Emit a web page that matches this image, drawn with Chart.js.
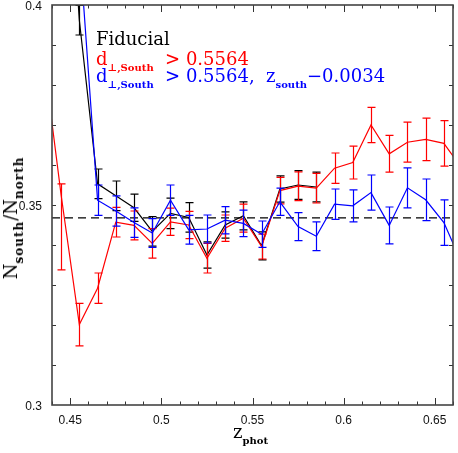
<!DOCTYPE html>
<html><head><meta charset="utf-8">
<script src="https://cdn.jsdelivr.net/npm/chart.js@4/dist/chart.umd.min.js"></script>
<style>
html,body{margin:0;padding:0;background:#fff;}
#wrap{position:relative;width:458px;height:453px;overflow:hidden;}
canvas{position:absolute;left:0;top:0;}
.t{position:absolute;font-family:"DejaVu Serif",serif;font-size:18px;line-height:18px;white-space:nowrap;}
.s{font-size:10px;font-weight:bold;position:relative;top:6px;}
.sy{font-size:12px;font-weight:bold;position:relative;top:6px;letter-spacing:1px;}
</style></head><body>
<div id="wrap">
<canvas id="c" width="458" height="453"></canvas>
<div class="t" style="left:96px;top:30px;color:#000">Fiducial</div>
<div class="t" style="left:96px;top:50px;color:#f00">d<span class="s">⊥,South</span>&nbsp; &gt; 0.5564</div>
<div class="t" style="left:96px;top:67px;color:#00f">d<span class="s">⊥,South</span>&nbsp; &gt; 0.5564,&nbsp; z<span class="s">south</span>−0.0034</div>
<div class="t" style="left:233px;top:423px;color:#000">z<span class="s">phot</span></div>
<div class="t" style="left:12px;top:218px;color:#000;transform:translate(-50%,-50%) rotate(-90deg);">N<span class="sy">south</span>/N<span class="sy">north</span></div>
</div>
<script>
// ---- data ----
const zBins = [0.435,0.445,0.455,0.465,0.475,0.485,0.495,0.505,0.515,0.525,0.535,0.545,0.555,0.565,0.575,0.585,0.595,0.605,0.615,0.625,0.635,0.645,0.655,0.665];

const fiducial    = [null,0.465,0.3962,0.3553,0.3523,0.3493,0.3434,0.3479,0.3469,0.3375,0.3450,0.3473,0.3398,0.3540,0.3550,0.3545,null,null,null,null,null,null,null,null];
const fiducialErr = [null,0.0040,0.0037,0.0037,0.0037,0.0034,0.0037,0.0038,0.0037,0.0033,0.0033,0.0035,0.0035,0.0033,0.0036,0.0037,null,null,null,null,null,null,null,null];

const cutSouth        = [0.3885,0.3525,0.3201,0.3292,0.3457,0.3449,0.3404,0.3458,0.3450,0.3367,0.3442,0.3467,0.3396,0.3536,0.3547,0.3542,0.3592,0.3606,0.3700,0.3628,0.3657,0.3664,0.3654,0.3591];
const cutSouthErrUp   = [0.0060,0.0028,0.0053,0.0038,0.0037,0.0036,0.0037,0.0034,0.0034,0.0037,0.0033,0.0035,0.0031,0.0033,0.0036,0.0037,0.0038,0.0041,0.0044,0.0046,0.0050,0.0053,0.0057,0.0060];
const cutSouthErrDown = [0.0060,0.0187,0.0053,0.0038,0.0037,0.0036,0.0037,0.0034,0.0034,0.0037,0.0033,0.0035,0.0031,0.0033,0.0036,0.0037,0.0038,0.0041,0.0044,0.0046,0.0050,0.0053,0.0057,0.0060];

const cutShift    = [null,0.450,0.415,0.3512,0.3485,0.3456,0.3430,0.3512,0.3438,0.3440,0.3462,0.3454,0.3427,0.3508,0.3446,0.3422,0.3502,0.3498,0.3531,0.3449,0.3543,0.3513,0.3456,0.3353];
const cutShiftErr = [null,0.0040,0.0040,0.0038,0.0038,0.0037,0.0036,0.0038,0.0036,0.0035,0.0034,0.0033,0.0033,0.0034,0.0035,0.0036,0.0038,0.0040,0.0044,0.0046,0.0050,0.0052,0.0057,0.0060];

const refLevel = 0.3468;
const xRange = [0.44, 0.66];
const yRange = [0.30, 0.40];
const xTicks = [0.45, 0.50, 0.55, 0.60, 0.65];
const xTickLabels = ['0.45','0.5','0.55','0.6','0.65'];
const yTicks = [0.30, 0.35, 0.40];
const yTickLabels = ['0.3','0.35','0.4'];
const xMinorTicks = [0.44,0.46,0.47,0.48,0.49,0.51,0.52,0.53,0.54,0.56,0.57,0.58,0.59,0.61,0.62,0.63,0.64,0.66];
const yMinorTicks = [0.31,0.32,0.33,0.34,0.35,0.36,0.37,0.38,0.39];

// ---- helpers ----
const pts = (vals) => zBins.map((x,i) => ({x, y: vals[i]}));

const errorBars = {
  id: 'errorBars',
  afterDatasetDraw(chart, args) {
    const ds = chart.data.datasets[args.index];
    if (!ds.errUp) return;
    const {ctx, chartArea: a, scales: {x, y}} = chart;
    ctx.save();
    ctx.beginPath(); ctx.rect(a.left, a.top, a.right - a.left, a.bottom - a.top); ctx.clip();
    ctx.strokeStyle = ds.borderColor; ctx.lineWidth = 1.2;
    ds.data.forEach((p, i) => {
      if (p.y == null || ds.errUp[i] == null) return;
      const px = Math.round(x.getPixelForValue(p.x)) + 0.5;
      const yt = y.getPixelForValue(p.y + ds.errUp[i]);
      const yb = y.getPixelForValue(p.y - ds.errDown[i]);
      ctx.beginPath();
      ctx.moveTo(px, yt); ctx.lineTo(px, yb);
      ctx.moveTo(px - 4, yt); ctx.lineTo(px + 4, yt);
      ctx.moveTo(px - 4, yb); ctx.lineTo(px + 4, yb);
      ctx.stroke();
    });
    ctx.restore();
  }
};

const frame = {
  id: 'frame',
  afterDraw(chart) {
    const {ctx, chartArea: a, scales: {x, y}} = chart;
    ctx.save();
    ctx.strokeStyle = '#333'; ctx.lineWidth = 1;
    const tick = (vals, len, isX) => {
      vals.forEach(v => {
        ctx.beginPath();
        if (isX) {
          const px = Math.round(x.getPixelForValue(v)) + 0.5;
          ctx.moveTo(px, a.bottom); ctx.lineTo(px, a.bottom - len);
          ctx.moveTo(px, a.top); ctx.lineTo(px, a.top + len);
        } else {
          const py = Math.round(y.getPixelForValue(v)) + 0.5;
          ctx.moveTo(a.left, py); ctx.lineTo(a.left + len, py);
          ctx.moveTo(a.right, py); ctx.lineTo(a.right - len, py);
        }
        ctx.stroke();
      });
    };
    tick(xTicks, 7, true);
    tick(xMinorTicks, 3.5, true);
    tick(yMinorTicks, 4, false);
    ctx.strokeStyle = '#444'; ctx.lineWidth = 1.6;
    ctx.strokeRect(a.left, a.top, a.right - a.left, a.bottom - a.top);
    ctx.restore();
  }
};

new Chart(document.getElementById('c'), {
  type: 'line',
  data: {
    datasets: [
      { label: 'ref', data: [{x: xRange[0], y: refLevel}, {x: xRange[1], y: refLevel}],
        borderColor: '#000', borderWidth: 1.3, borderDash: [8, 5], pointRadius: 0, order: 4 },
      { label: 'fiducial', data: pts(fiducial), errUp: fiducialErr, errDown: fiducialErr,
        borderColor: '#000000', borderWidth: 1.2, pointRadius: 0, order: 3 },
      { label: 'cutSouth', data: pts(cutSouth), errUp: cutSouthErrUp, errDown: cutSouthErrDown,
        borderColor: '#ff0000', borderWidth: 1.2, pointRadius: 0, order: 2 },
      { label: 'cutShift', data: pts(cutShift), errUp: cutShiftErr, errDown: cutShiftErr,
        borderColor: '#0000ff', borderWidth: 1.2, pointRadius: 0, order: 1 }
    ]
  },
  options: {
    responsive: false, animation: false, devicePixelRatio: 1,
    layout: { padding: { top: 5, right: 5, left: 0, bottom: 0 } },
    elements: { line: { tension: 0, fill: false } },
    plugins: { legend: { display: false }, tooltip: { enabled: false } },
    scales: {
      x: {
        type: 'linear', min: xRange[0], max: xRange[1],
        grid: { display: false, drawTicks: false }, border: { display: false },
        afterBuildTicks: s => { s.ticks = xTicks.map(v => ({value: v})); },
        afterFit: s => { s.height = 48; s.paddingLeft = 0; s.paddingRight = 0; },
        ticks: { autoSkip: false, maxRotation: 0, padding: 8, color: '#111',
          font: { family: 'Liberation Sans', size: 12 },
          callback: (v, i) => xTickLabels[i] }
      },
      y: {
        type: 'linear', min: yRange[0], max: yRange[1],
        grid: { display: false, drawTicks: false }, border: { display: false },
        afterBuildTicks: s => { s.ticks = yTicks.map(v => ({value: v})); },
        afterFit: s => { s.width = 52; s.paddingTop = 0; s.paddingBottom = 0; },
        ticks: { autoSkip: false, padding: 10, labelOffset: 2, color: '#111',
          font: { family: 'Liberation Sans', size: 12 },
          callback: (v, i) => yTickLabels[i] }
      }
    }
  },
  plugins: [errorBars, frame]
});
</script>
</body></html>
